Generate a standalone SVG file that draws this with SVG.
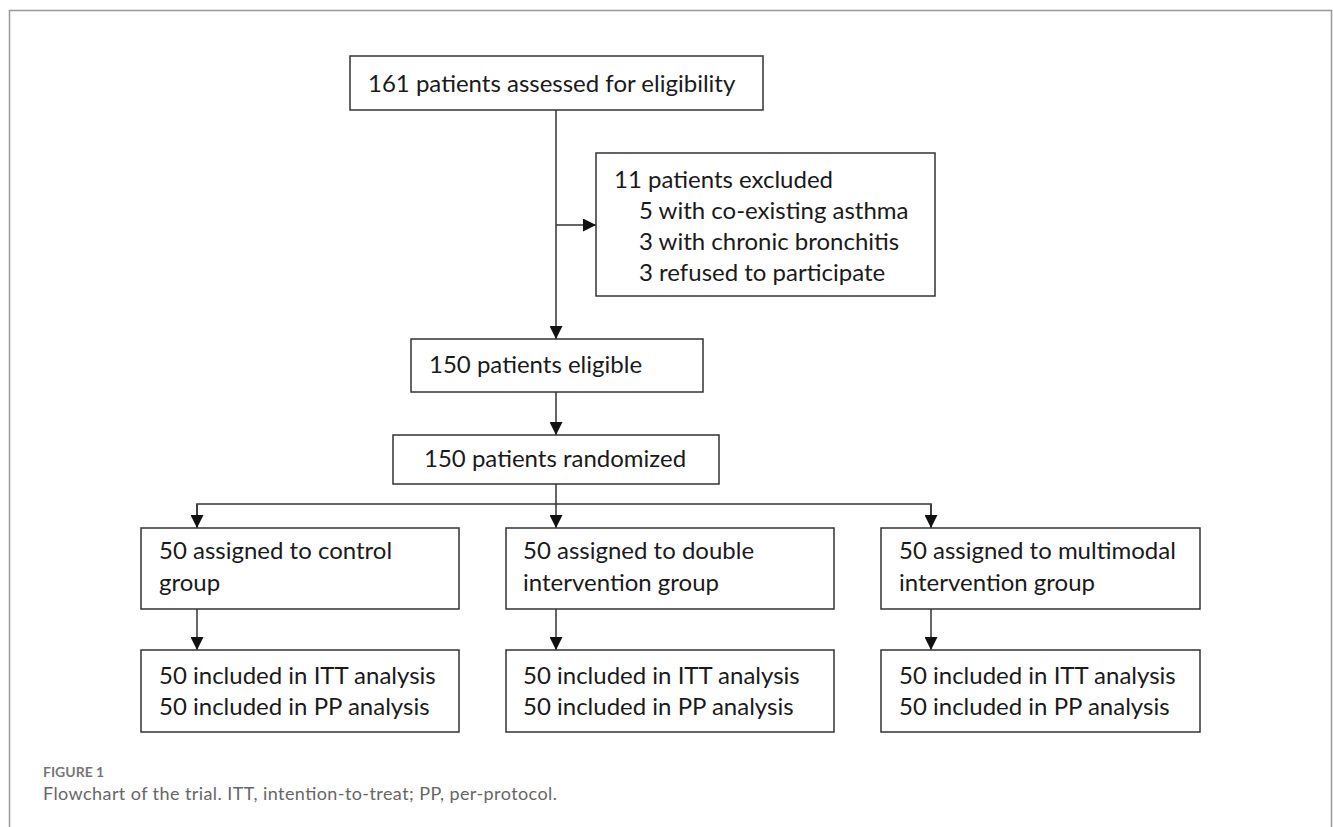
<svg xmlns="http://www.w3.org/2000/svg" width="1333" height="827" viewBox="0 0 1333 827">
<style>
.box{fill:#fff;stroke:#333;stroke-width:1.5}
.t{font-family:Lato,"Liberation Sans",sans-serif;font-size:24px;fill:#1a1a1a}
.ln{fill:none;stroke:#333;stroke-width:1.5}
.cap1{font-family:Lato,"Liberation Sans",sans-serif;font-size:14px;font-weight:bold;fill:#777}
.cap2{font-family:Lato,"Liberation Sans",sans-serif;font-size:18px;fill:#666}
</style>
<defs>
<marker id="ah" viewBox="0 0 13 13" refX="13" refY="6.5" markerWidth="13" markerHeight="13" markerUnits="userSpaceOnUse" orient="auto">
<path d="M0,0 L13,6.5 L0,13 Z" fill="#111"/>
</marker>
</defs>
<rect x="0" y="0" width="1333" height="827" fill="#fff"/>
<path d="M9.5,830 V10.5 H1331.5 V830" fill="none" stroke="#999" stroke-width="1.5"/>
<g id="connectors">
<line class="ln" x1="556" y1="110" x2="556" y2="339" marker-end="url(#ah)"/>
<line class="ln" x1="556" y1="225" x2="596" y2="225" marker-end="url(#ah)"/>
<line class="ln" x1="556" y1="392" x2="556" y2="435" marker-end="url(#ah)"/>
<line class="ln" x1="556" y1="484" x2="556" y2="528" marker-end="url(#ah)"/>
<path class="ln" d="M197,528 V504 H931 V528"/>
<line class="ln" x1="197" y1="504" x2="197" y2="528" marker-end="url(#ah)"/>
<line class="ln" x1="931" y1="504" x2="931" y2="528" marker-end="url(#ah)"/>
<line class="ln" x1="197" y1="609" x2="197" y2="650" marker-end="url(#ah)"/>
<line class="ln" x1="556" y1="609" x2="556" y2="650" marker-end="url(#ah)"/>
<line class="ln" x1="931" y1="609" x2="931" y2="650" marker-end="url(#ah)"/>
</g>
<g id="assessed">
<rect class="box" x="350" y="56" width="413" height="54"/>
<text class="t" x="368" y="92">161 patients assessed for eligibility</text>
</g>
<g id="excluded">
<rect class="box" x="596" y="153" width="339" height="143"/>
<text class="t" x="614" y="188">11 patients excluded</text>
<text class="t" x="639" y="219">5 with co-existing asthma</text>
<text class="t" x="639" y="250">3 with chronic bronchitis</text>
<text class="t" x="639" y="281">3 refused to participate</text>
</g>
<g id="eligible">
<rect class="box" x="411" y="339" width="292" height="53"/>
<text class="t" x="429" y="373">150 patients eligible</text>
</g>
<g id="randomized">
<rect class="box" x="393" y="435" width="326" height="49"/>
<text class="t" x="424" y="467">150 patients randomized</text>
</g>
<g id="control">
<rect class="box" x="141" y="528" width="318" height="81"/>
<text class="t" x="159" y="559">50 assigned to control</text>
<text class="t" x="159" y="591">group</text>
</g>
<g id="double">
<rect class="box" x="506" y="528" width="328" height="81"/>
<text class="t" x="523" y="559">50 assigned to double</text>
<text class="t" x="523" y="591">intervention group</text>
</g>
<g id="multimodal">
<rect class="box" x="881" y="528" width="319" height="81"/>
<text class="t" x="899" y="559">50 assigned to multimodal</text>
<text class="t" x="899" y="591">intervention group</text>
</g>
<g id="control-analysis">
<rect class="box" x="141" y="650" width="318" height="82"/>
<text class="t" x="159" y="684">50 included in ITT analysis</text>
<text class="t" x="159" y="715">50 included in PP analysis</text>
</g>
<g id="double-analysis">
<rect class="box" x="506" y="650" width="328" height="82"/>
<text class="t" x="523" y="684">50 included in ITT analysis</text>
<text class="t" x="523" y="715">50 included in PP analysis</text>
</g>
<g id="multimodal-analysis">
<rect class="box" x="881" y="650" width="319" height="82"/>
<text class="t" x="899" y="684">50 included in ITT analysis</text>
<text class="t" x="899" y="715">50 included in PP analysis</text>
</g>
<g id="caption">
<text class="cap1" x="43" y="777">FIGURE 1</text>
<text class="cap2" x="43" y="800" textLength="514">Flowchart of the trial. ITT, intention-to-treat; PP, per-protocol.</text>
</g>
</svg>
